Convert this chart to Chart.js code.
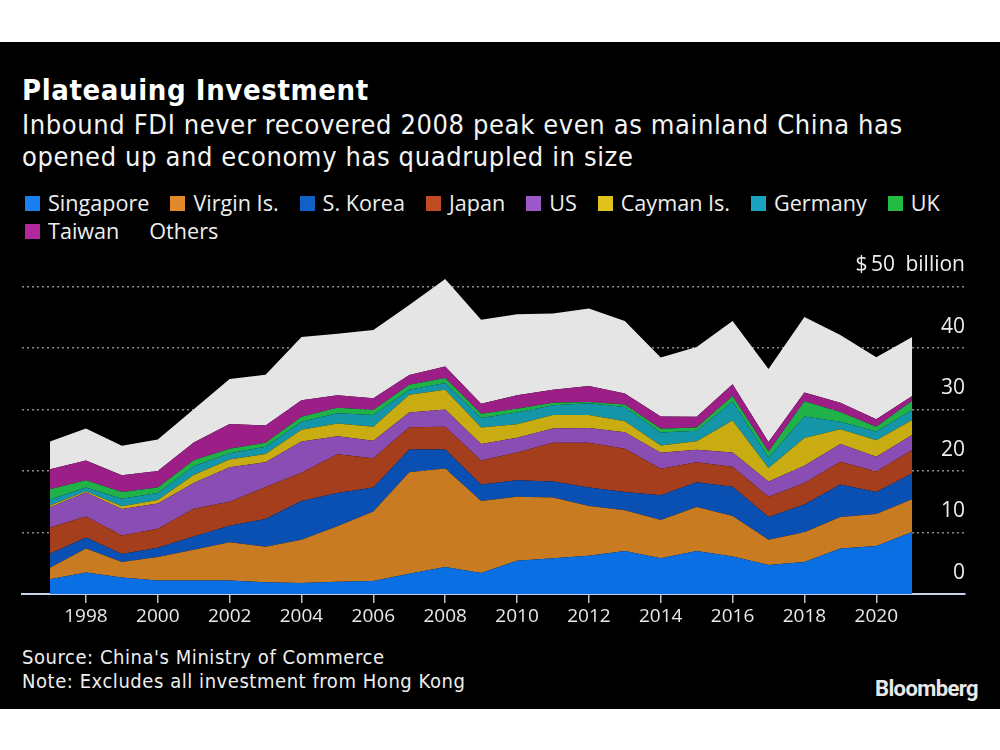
<!DOCTYPE html>
<html><head><meta charset="utf-8">
<script src="https://cdn.jsdelivr.net/npm/chart.js@4.4.0/dist/chart.umd.min.js"></script>
<style>
html,body{margin:0;padding:0;background:#fff;width:1000px;height:750px;overflow:hidden;position:relative;}
#panel{position:absolute;left:0;top:42px;width:1000px;height:667px;background:#000;}
.t{position:absolute;color:#fff;white-space:nowrap;}
#title{left:22px;top:73px;font:bold 29px "DejaVu Sans Condensed","DejaVu Sans";letter-spacing:0.6px;line-height:34px;}
#sub{left:22px;top:109px;font:27px "DejaVu Sans Condensed","DejaVu Sans";letter-spacing:0.62px;line-height:32px;color:#f4f4f4;}
#legend{left:25px;top:189px;width:960px;font:21.6px "Open Sans";line-height:28px;color:#eee;white-space:normal;display:flex;flex-wrap:wrap;}
.li{display:flex;align-items:center;margin-right:21px;}
.sw{width:15px;height:15px;margin-right:8px;}
.sw.none{width:9px;margin-right:0;}
#foot{left:22px;top:645px;font:20px "DejaVu Sans Condensed","DejaVu Sans";letter-spacing:0.55px;line-height:24px;color:#eee;}
#logo{right:22px;top:676px;font:bold 22px Roboto;letter-spacing:-0.6px;color:#e8e8e8;line-height:26px;}
#cv{position:absolute;left:0;top:250px;width:1000px;height:400px;}
</style></head>
<body>
<div id="panel"></div>
<div class="t" id="title">Plateauing Investment</div>
<div class="t" id="sub">Inbound FDI never recovered 2008 peak even as mainland China has<br>opened up and economy has quadrupled in size</div>
<div class="t" id="legend"></div>
<div class="t" id="foot">Source: China's Ministry of Commerce<br>Note: Excludes all investment from Hong Kong</div>
<div class="t" id="logo">Bloomberg</div>
<div id="cv"><canvas id="c" width="1000" height="400"></canvas></div>
<script>
const years = [1997,1998,1999,2000,2001,2002,2003,2004,2005,2006,2007,2008,2009,2010,2011,2012,2013,2014,2015,2016,2017,2018,2019,2020,2021];
const seriesNames = ["Singapore","Virgin Is.","S. Korea","Japan","US","Cayman Is.","Germany","UK","Taiwan","Others"];
const seriesColors = ["#0b6fe4","#c97b22","#0a4fb2","#a53e1c","#8a4db3","#c9ab12","#1596a8","#20b249","#9c1f88","#e5e5e5"];
const legendColors = ["#1a7ff0","#e08a2c","#1060c8","#c04a22","#9a58c8","#e0c21c","#1aa3c0","#22bb44","#b0289c",null];
const singapore = [2.4,3.5,2.7,2.2,2.2,2.2,1.9,1.8,2.0,2.1,3.3,4.4,3.4,5.4,5.8,6.2,7.0,5.8,7.0,6.1,4.7,5.2,7.4,7.8,10.1];
const virginIs  = [1.85,3.9,2.5,3.8,5.0,6.2,5.8,7.0,9.0,11.3,16.5,16.0,11.7,10.4,9.9,8.1,6.6,6.25,7.15,6.6,4.1,4.85,5.1,5.2,5.3];
const sKorea    = [2.3,1.8,1.3,1.5,2.15,2.7,4.5,6.3,5.4,3.9,3.7,3.1,2.7,2.7,2.6,3.0,3.0,4.0,4.0,4.75,3.7,4.5,5.3,3.6,4.2];
const japan     = [4.25,3.4,3.0,3.1,4.5,3.9,5.2,4.6,6.3,4.76,3.6,3.7,3.9,4.5,6.3,7.3,7.0,4.3,3.25,3.25,3.3,3.5,3.7,3.3,3.8];
const us        = [3.3,3.9,4.3,4.1,4.2,5.6,4.0,5.1,2.95,2.85,2.4,2.8,2.7,2.4,2.3,2.4,2.7,2.6,2.05,2.3,2.5,2.8,2.9,2.4,2.45];
const caymanIs  = [0.3,0.2,0.45,0.6,1.3,1.25,1.35,1.9,2.05,2.3,2.9,3.2,2.65,2.2,2.2,2.1,1.8,1.2,1.4,5.2,2.2,4.5,2.4,2.7,2.45];
const germany   = [0.95,0.6,1.25,1.1,1.4,1.05,1.2,1.3,1.7,1.9,0.8,1.1,1.55,1.9,1.6,1.9,2.3,2.1,1.7,3.1,1.7,3.5,1.2,1.4,1.6];
const uk        = [1.7,1.2,1.1,0.9,1.0,0.7,0.65,0.8,0.9,0.8,0.8,0.8,0.7,0.6,0.4,0.2,0.4,0.6,0.5,0.9,0.95,2.5,1.6,0.8,1.5];
const taiwan    = [3.25,3.2,2.7,2.7,2.9,4.05,2.8,2.7,2.0,1.9,1.6,1.9,1.65,2.2,2.1,2.6,1.8,2.0,1.75,1.9,1.55,1.4,1.5,1.2,0.8];
const others    = [4.5,5.2,4.8,5.1,5.4,7.3,8.25,10.3,10.0,11.1,11.4,14.2,13.65,13.2,12.4,12.6,11.8,9.6,11.35,10.3,11.9,12.3,11.0,10.1,9.6];
const xTickYears = [1998,2000,2002,2004,2006,2008,2010,2012,2014,2016,2018,2020];
const yTickValues = [0,10,20,30,40,50];
const yTopLabel = "$\u200950\u2002billion";

const seriesValues = [singapore,virginIs,sKorea,japan,us,caymanIs,germany,uk,taiwan,others];

// legend
const lg = document.getElementById('legend');
seriesNames.forEach((n,i)=>{
  const d=document.createElement('div');d.className='li';
  const s=document.createElement('div');
  if (legendColors[i]) { s.className='sw'; s.style.background=legendColors[i]; }
  else { s.className='sw none'; }
  const tx=document.createElement('span');tx.textContent=n;
  d.appendChild(s);d.appendChild(tx);lg.appendChild(d);
});

const datasets = seriesValues.map((vals,i)=>({
  label: seriesNames[i],
  data: years.map((y,j)=>({x:y,y:vals[j]})),
  backgroundColor: seriesColors[i],
  borderColor: seriesColors[i],
  borderWidth: 0,
  pointRadius: 0,
  tension: 0,
  fill: i===0 ? 'origin' : '-1'
}));

new Chart(document.getElementById('c'), {
  type:'line',
  data:{datasets},
  options:{
    responsive:false, animation:false,
    layout:{padding:{left:22,right:35,top:18,bottom:16}},
    plugins:{legend:{display:false},tooltip:{enabled:false}},
    scales:{
      x:{
        type:'linear', min:1996.22, max:2022.47,
        afterBuildTicks: s => { s.ticks = xTickYears.map(v=>({value:v})); },
        afterFit: s => { s.height = 40; },
        ticks:{callback:v=>String(v), color:'#e8e8e8', font:{family:'Open Sans',size:19}, padding:2, maxRotation:0, autoSkip:false},
        grid:{drawOnChartArea:false, drawTicks:true, tickLength:9, color:'#b9c6d6', lineWidth:1.5},
        border:{display:true, color:'#c5d3e6', width:2}
      },
      y:{
        position:'right', stacked:true, min:0, max:53,
        afterBuildTicks: s => { s.ticks = yTickValues.map(v=>({value:v})); },
        afterFit: s => { s.width = 0; },
        ticks:{mirror:true, padding:0, labelOffset:-21, color:'#eee', font:{family:'Open Sans',size:21},
          callback: v => v===50 ? yTopLabel : String(v)},
        grid:{color: c => (c.tick && c.tick.value===0) ? 'rgba(0,0,0,0)' : '#8a8a8a', lineWidth:1.5, drawTicks:false},
        border:{display:false, dash:[2,3]}
      }
    }
  }
});
</script>
</body></html>
